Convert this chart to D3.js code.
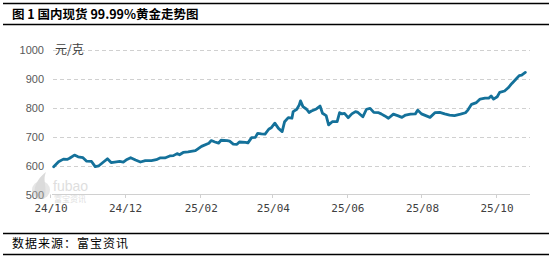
<!DOCTYPE html>
<html>
<head>
<meta charset="utf-8">
<script src="https://cdn.jsdelivr.net/npm/d3@7"></script>
<style>
  body { margin: 0; background: #fff; }
  svg { display: block; }
</style>
</head>
<body>
<script>
// price of 99.99% spot gold, yuan per gram
var dates = ["2024-10-04","2024-10-08","2024-10-12","2024-10-15","2024-10-17","2024-10-21","2024-10-24","2024-10-28","2024-10-31",
  "2024-11-04","2024-11-07","2024-11-10","2024-11-14","2024-11-17","2024-11-20","2024-11-23","2024-11-27","2024-11-30",
  "2024-12-03","2024-12-06","2024-12-10","2024-12-14","2024-12-18","2024-12-23","2024-12-27","2024-12-30",
  "2025-01-03","2025-01-07","2025-01-10","2025-01-13","2025-01-15","2025-01-18","2025-01-22","2025-01-28",
  "2025-02-02","2025-02-08","2025-02-10","2025-02-13","2025-02-16","2025-02-18","2025-02-23","2025-02-25","2025-02-28",
  "2025-03-03","2025-03-05","2025-03-10","2025-03-12","2025-03-15","2025-03-18","2025-03-20","2025-03-23","2025-03-26","2025-03-29","2025-03-31",
  "2025-04-03","2025-04-06","2025-04-09","2025-04-11","2025-04-14","2025-04-17","2025-04-18","2025-04-21","2025-04-23","2025-04-24","2025-04-26","2025-04-29",
  "2025-05-01","2025-05-03","2025-05-07","2025-05-10","2025-05-12","2025-05-15","2025-05-17","2025-05-20","2025-05-24","2025-05-26","2025-05-28","2025-05-30",
  "2025-06-02","2025-06-05","2025-06-08","2025-06-10","2025-06-14","2025-06-17","2025-06-20","2025-06-23","2025-06-27","2025-06-29",
  "2025-07-02","2025-07-05","2025-07-09","2025-07-13","2025-07-16","2025-07-19","2025-07-23","2025-07-27","2025-07-29",
  "2025-08-01","2025-08-05","2025-08-08","2025-08-12","2025-08-16","2025-08-20","2025-08-24","2025-08-28",
  "2025-09-02","2025-09-06","2025-09-08","2025-09-11","2025-09-15","2025-09-18","2025-09-22","2025-09-25","2025-09-27","2025-09-29",
  "2025-10-02","2025-10-04","2025-10-08","2025-10-11","2025-10-14","2025-10-18","2025-10-20","2025-10-22","2025-10-25"];
var prices = [596,613,622,621,625,636,630,627,615,
  614,596,599,613,623,610,612,614,612,
  621,627,619,612,617,617,620,626,
  626,633,634,641,637,645,647,651,
  666,677,686,681,677,687,686,684,674,
  673,681,680,678,696,697,711,709,708,725,730,
  746,728,717,751,765,763,786,794,809,823,803,794,
  783,788,795,805,780,772,740,751,751,782,778,780,
  765,778,786,783,768,794,797,783,782,778,
  771,763,777,771,766,774,777,778,791,
  778,771,766,782,783,778,774,772,
  777,782,791,811,817,829,832,832,840,829,
  837,852,857,868,883,901,910,912,921];
var yTicks = [500, 600, 700, 800, 900, 1000];
var xTicks = ["2024-10-01","2024-12-01","2025-02-01","2025-04-01","2025-06-01","2025-08-01","2025-10-01"];

var W = 554, H = 258;
var parse = d3.timeParse("%Y-%m-%d");
var data = dates.map(function(d, i) { return { date: parse(d), value: prices[i] }; });

var svg = d3.select("body").append("svg")
    .attr("width", W)
    .attr("height", H);

var cn = "'Noto Sans CJK SC', sans-serif";

// rules around title and footer
[3.5, 24.5, 233.5, 254.5].forEach(function(y) {
    svg.append("line")
        .attr("x1", 3).attr("x2", 549)
        .attr("y1", y).attr("y2", y)
        .attr("stroke", "#000")
        .attr("stroke-width", 1.6);
});

svg.append("text")
    .attr("x", 12).attr("y", 19)
    .attr("font-family", cn)
    .attr("font-size", "12.5px")
    .attr("font-weight", "bold")
    .attr("fill", "#000")
    .text("图 1 国内现货 99.99%黄金走势图");

svg.append("text")
    .attr("x", 12).attr("y", 248)
    .attr("font-family", cn)
    .attr("font-size", "12px")
    .attr("fill", "#000")
    .attr("letter-spacing", "1px")
    .text("数据来源：富宝资讯");

// scales: Oct 1 2024 -> x 50, Oct 1 2025 -> x 496
var x = d3.scaleTime()
    .domain([parse("2024-10-01"), parse("2025-10-01")])
    .range([50, 496]);
var y = d3.scaleLinear()
    .domain([500, 1000])
    .range([194.5, 49.5]);

var plotLeft = 53, plotRight = 530;

// gridlines
svg.selectAll("line.grid")
    .data(yTicks.filter(function(d) { return d > 500; }))
    .enter()
    .append("line")
    .attr("class", "grid")
    .attr("x1", plotLeft).attr("x2", plotRight)
    .attr("y1", function(d) { return Math.round(y(d)) + 0.5; })
    .attr("y2", function(d) { return Math.round(y(d)) + 0.5; })
    .attr("stroke", "#d0d0d0")
    .attr("stroke-dasharray", "4,3");

// y labels
svg.selectAll("text.ylab")
    .data(yTicks)
    .enter()
    .append("text")
    .attr("class", "ylab")
    .attr("x", 44)
    .attr("y", function(d) { return y(d) + 4; })
    .attr("text-anchor", "end")
    .attr("font-family", "'Liberation Sans', Arial, sans-serif")
    .attr("font-size", "11px")
    .attr("fill", "#595959")
    .text(function(d) { return d; });

svg.append("text")
    .attr("x", 55).attr("y", 54)
    .attr("font-family", cn)
    .attr("font-size", "12px")
    .attr("fill", "#404040")
    .text("元/克");

// watermark
var wm = svg.append("g").attr("opacity", 0.45);
wm.append("circle").attr("cx", 41).attr("cy", 190).attr("r", 9).attr("fill", "#c8c8c8");
wm.append("path").attr("d", "M38,199 C30,190 38,178 46,172 C42,182 48,186 44,199 Z").attr("fill", "#b0b0b0");
wm.append("text")
    .attr("x", 53).attr("y", 191)
    .attr("font-family", "'Liberation Sans', sans-serif")
    .attr("font-size", "14px")
    .attr("fill", "#b8b8b8")
    .text("fubao");
wm.append("text")
    .attr("x", 54).attr("y", 202)
    .attr("font-family", cn)
    .attr("font-size", "8px")
    .attr("fill", "#b8b8b8")
    .text("富宝资讯");

// x axis line and ticks
svg.append("line")
    .attr("x1", plotLeft - 1).attr("x2", plotRight)
    .attr("y1", 194.5).attr("y2", 194.5)
    .attr("stroke", "#d0d0d0");

svg.selectAll("line.xtick")
    .data(xTicks)
    .enter()
    .append("line")
    .attr("class", "xtick")
    .attr("x1", function(d) { return Math.round(x(parse(d))) + 0.5; })
    .attr("x2", function(d) { return Math.round(x(parse(d))) + 0.5; })
    .attr("y1", 194.5).attr("y2", 198)
    .attr("stroke", "#d0d0d0");

svg.selectAll("text.xlab")
    .data(xTicks)
    .enter()
    .append("text")
    .attr("class", "xlab")
    .attr("x", function(d) { return x(parse(d)) + 1; })
    .attr("y", 212)
    .attr("text-anchor", "middle")
    .attr("font-family", "'DejaVu Sans Mono', monospace")
    .attr("font-size", "11px")
    .attr("fill", "#404040")
    .text(function(d) { return d3.timeFormat("%y/%m")(parse(d)); });

// price line
var line = d3.line()
    .x(function(d) { return x(d.date); })
    .y(function(d) { return y(d.value); });

svg.append("path")
    .datum(data)
    .attr("d", line)
    .attr("fill", "none")
    .attr("stroke", "#14719a")
    .attr("stroke-width", 2.8)
    .attr("stroke-linejoin", "round")
    .attr("stroke-linecap", "round");
</script>
</body>
</html>
